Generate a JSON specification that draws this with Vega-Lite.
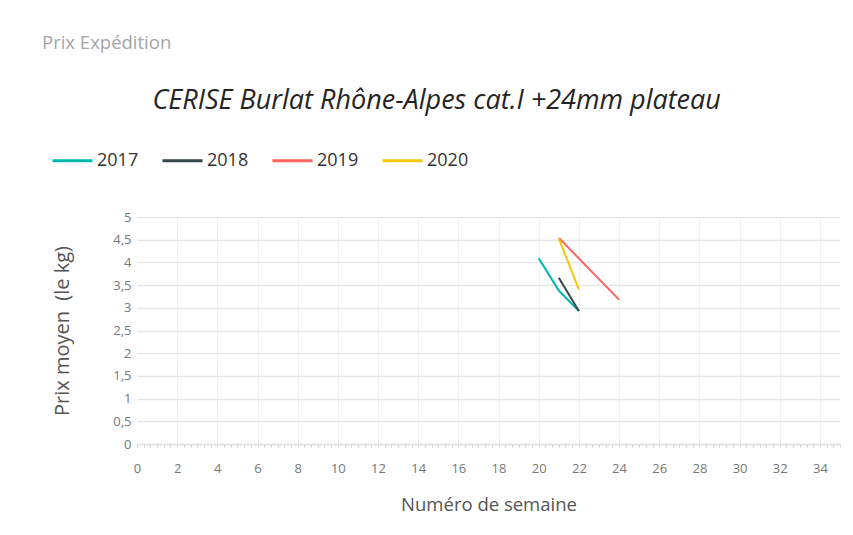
{
  "$schema": "https://vega.github.io/schema/vega-lite/v6.json",
  "background": "white",
  "padding": {"left": 42, "top": 33, "right": 10, "bottom": 10},
  "title": {"text": "Prix Expédition", "anchor": "start", "frame": "bounds", "font": "Open Sans", "fontSize": 18.5, "fontWeight": "normal", "color": "#a6a6a6", "offset": 35, "dx": -9},
  "config": {
    "font": "Open Sans",
    "view": {"stroke": null}
  },
  "vconcat": [
    {
      "width": 703,
      "height": 227,
      "title": {"text": "CERISE Burlat Rhône-Alpes cat.I +24mm plateau", "anchor": "middle", "frame": "bounds", "font": "Open Sans", "fontSize": 27, "fontStyle": "italic", "fontWeight": "normal", "color": "#252423", "offset": 96, "dx": -10},
      "data": {
        "values": [
          {"year": "2017", "week": 20, "price": 4.09},
          {"year": "2017", "week": 21, "price": 3.38},
          {"year": "2017", "week": 22, "price": 2.93},
          {"year": "2018", "week": 21, "price": 3.66},
          {"year": "2018", "week": 22, "price": 2.93},
          {"year": "2019", "week": 21, "price": 4.54},
          {"year": "2019", "week": 24, "price": 3.18},
          {"year": "2020", "week": 21, "price": 4.53},
          {"year": "2020", "week": 22, "price": 3.4}
        ]
      },
      "mark": {"type": "line", "strokeWidth": 2},
      "encoding": {
        "x": {
          "field": "week", "type": "quantitative",
          "scale": {"domain": [0, 35], "nice": false, "zero": false},
          "axis": {
            "title": "Numéro de semaine",
            "titleFont": "Open Sans", "titleFontSize": 18.5, "titleFontWeight": "normal", "titleColor": "#555555", "titlePadding": 20,
            "labelFont": "Open Sans", "labelFontSize": 13, "labelColor": "#777777", "labelPadding": 15, "labelOverlap": false, "labelFlush": false,
            "values": [0,0.333,0.667,1,1.333,1.667,2,2.333,2.667,3,3.333,3.667,4,4.333,4.667,5,5.333,5.667,6,6.333,6.667,7,7.333,7.667,8,8.333,8.667,9,9.333,9.667,10,10.333,10.667,11,11.333,11.667,12,12.333,12.667,13,13.333,13.667,14,14.333,14.667,15,15.333,15.667,16,16.333,16.667,17,17.333,17.667,18,18.333,18.667,19,19.333,19.667,20,20.333,20.667,21,21.333,21.667,22,22.333,22.667,23,23.333,23.667,24,24.333,24.667,25,25.333,25.667,26,26.333,26.667,27,27.333,27.667,28,28.333,28.667,29,29.333,29.667,30,30.333,30.667,31,31.333,31.667,32,32.333,32.667,33,33.333,33.667,34,34.333,34.667,35],
            "labelExpr": "abs(datum.value - round(datum.value/2)*2) < 0.01 ? format(datum.value, 'd') : ''",
            "grid": true,
            "gridColor": "#f0f0f0",
            "gridWidth": 1,
            "gridOpacity": {"condition": {"test": "abs(datum.value - round(datum.value/2)*2) < 0.01 && datum.value > 0.5", "value": 1}, "value": 0},
            "domain": true, "domainColor": "#e3e3e3", "domainWidth": 1.5,
            "ticks": true, "tickColor": "#cfcfcf", "tickSize": 3, "tickWidth": 1
          }
        },
        "y": {
          "field": "price", "type": "quantitative",
          "scale": {"domain": [0, 5], "nice": false},
          "axis": {
            "title": "Prix moyen\u00a0 (le kg)",
            "titleFont": "Open Sans", "titleFontSize": 20, "titleFontWeight": "normal", "titleColor": "#555555", "titlePadding": 40,
            "labelFont": "Open Sans", "labelFontSize": 13, "labelColor": "#777777", "labelPadding": 6,
            "values": [0,0.5,1,1.5,2,2.5,3,3.5,4,4.5,5],
            "format": "~g",
            "labelExpr": "replace(datum.label, '.', ',')",
            "grid": true, "gridColor": "#e6e6e6", "gridWidth": 1.5,
            "domain": false, "ticks": false
          }
        },
        "color": {
          "field": "year", "type": "nominal",
          "scale": {"domain": ["2017", "2018", "2019", "2020"], "range": ["#01B8AA", "#374649", "#FD625E", "#F2C80F"]},
          "legend": {
            "title": null, "orient": "none", "direction": "horizontal",
            "legendX": -86, "legendY": -78,
            "symbolType": "stroke", "symbolSize": 1600, "symbolStrokeWidth": 3,
            "labelFont": "Open Sans", "labelFontSize": 18, "labelColor": "#333333", "labelOffset": 3,
            "columnPadding": 17
          }
        }
      }
    }
  ]
}
